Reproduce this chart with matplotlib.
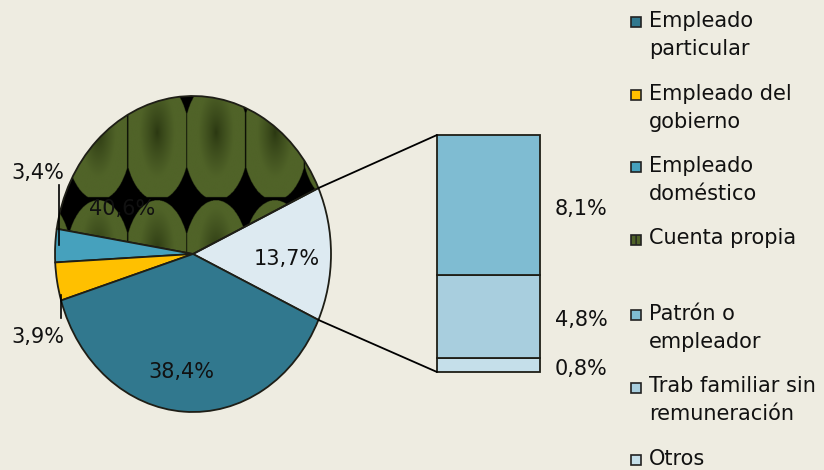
import numpy as np
import matplotlib
matplotlib.use('Agg')
import matplotlib.pyplot as plt
from matplotlib.patches import Rectangle, ConnectionPatch

# ---------------- data ----------------
pie_labels = ['Cuenta propia', 'Empleado doméstico', 'Empleado del gobierno', 'Empleado particular']
pie_values = [40.6, 3.4, 3.9, 38.4]
bar_labels = ['Patrón o empleador', 'Trab familiar sin remuneración', 'Otros']
bar_values = [8.1, 4.8, 0.8]
legend_labels = ['Empleado\nparticular', 'Empleado del\ngobierno', 'Empleado\ndoméstico',
                 'Cuenta propia', 'Patrón o\nempleador', 'Trab familiar sin\nremuneración', 'Otros']

# ---------------- style ----------------
BG = '#EEECE1'
EDGE = '#1E1E16'
C_OTHER = '#DDEAF1'
C_CP = 'none'
C_DOM = '#46A1BD'
C_GOB = '#FFC000'
C_PART = '#31788E'
BAR_COLORS = ['#7FBCD2', '#A8CEDE', '#C5DFEA']
GREEN_L = np.array([80, 99, 40]) / 255
GREEN_D = np.array([42, 55, 17]) / 255
FS = 15
plt.rcParams['font.family'] = ['DejaVu Sans']

def fmt(v):
    return f"{v:.1f}".replace('.', ',') + '%'

W, H = 824, 470
fig = plt.figure(figsize=(W / 100, H / 100), dpi=100, facecolor=BG)

def frac_box(left, top, width, height):
    return [left / W, 1 - (top + height) / H, width / W, height / H]

# ---------------- pie ----------------
pax = fig.add_axes(frac_box(55, 96, 276, 316))
other_total = sum(bar_values)
vals = [other_total] + pie_values
total = sum(vals)
start = -other_total / total * 180.0
wedges, _ = pax.pie(vals, startangle=start, counterclock=True,
                    colors=[C_OTHER, C_CP, C_DOM, C_GOB, C_PART],
                    wedgeprops=dict(edgecolor=EDGE, linewidth=1.3))
pax.set_aspect('auto')
pax.set_xlim(-1, 1)
pax.set_ylim(-1, 1)
pax.axis('off')

# pattern fill for "Cuenta propia" (green scales on black)
n = 700
xs = np.linspace(-1, 1, n)
ys = np.linspace(-1, 1, n)
X, Y = np.meshgrid(xs, ys)
cw = 59 / 138
xb0 = (127.7 - 193) / 138
col = np.floor((X - xb0) / cw)
cx = xb0 + (col + 0.5) * cw
ry0 = (254 - 137) / 158
rh = 120 / 158
row = np.round((Y - ry0) / rh)
cy = ry0 + row * rh
a = 32.5 / 138
b = 60 / 158
d = ((X - cx) / a) ** 2 + ((Y - cy + 0.02) / b) ** 2
inside = (d <= 1) & (np.abs(X - cx) < cw / 2 - 0.004)
r = np.sqrt(((X - cx) / (a * 0.55)) ** 2 + ((Y - cy - 0.03) / (b * 0.75)) ** 2)
t = np.clip(r, 0, 1) ** 0.8
img = np.zeros((n, n, 3))
for k in range(3):
    img[..., k] = np.where(inside, GREEN_D[k] + (GREEN_L[k] - GREEN_D[k]) * t, 0.0)
im = pax.imshow(img, extent=(-1, 1, -1, 1), origin='lower', aspect='auto',
                interpolation='bilinear', zorder=0.5)
im.set_clip_path(wedges[1])
pax.set_xlim(-1, 1)
pax.set_ylim(-1, 1)

# pie labels
tk = dict(fontsize=FS, color='#111111', ha='center', va='center')
pax.text(0.681, -0.03, fmt(other_total), **tk)
pax.text(-0.514, 0.285, fmt(pie_values[0]), **tk)
pax.text(-1.127, 0.51, fmt(pie_values[1]), clip_on=False, **tk)
pax.text(-1.127, -0.525, fmt(pie_values[2]), clip_on=False, **tk)
pax.text(-0.083, -0.745, fmt(pie_values[3]), **tk)
pax.plot([-0.971, -0.971], [0.437, 0.057], color='black', lw=1.2, clip_on=False)
pax.plot([-0.957, -0.957], [-0.259, -0.405], color='black', lw=1.2, clip_on=False)

# ---------------- bar ----------------
bax = fig.add_axes(frac_box(437, 135, 103, 237))
bottom = 0.0
stack = list(zip(bar_values, BAR_COLORS))[::-1]
for v, c in stack:
    bax.bar(0, v, width=1.0, bottom=bottom, color=c, edgecolor=EDGE, linewidth=1.3, clip_on=False)
    bax.annotate(fmt(v), xy=(0.5, bottom + v / 2), xytext=(10.5, -2.5), textcoords='offset points',
                 fontsize=FS, color='#111111', ha='left', va='center', annotation_clip=False)
    bottom += v
bax.set_xlim(-0.5, 0.5)
bax.set_ylim(0, other_total)
bax.axis('off')

# connection lines
ang1 = np.deg2rad(start)
ang2 = np.deg2rad(-start)
for ang, yb in [(ang2, other_total), (ang1, 0.0)]:
    con = ConnectionPatch(xyA=(np.cos(ang), np.sin(ang)), coordsA=pax.transData,
                          xyB=(-0.5, yb), coordsB=bax.transData,
                          color='black', lw=1.3)
    fig.add_artist(con)

# ---------------- legend ----------------
lax = fig.add_axes([0, 0, 1, 1])
lax.set_xlim(0, W)
lax.set_ylim(H, 0)
lax.axis('off')
lax.patch.set_alpha(0)
leg_colors = [C_PART, C_GOB, C_DOM, '#4F6228'] + BAR_COLORS
for i, (lab, c) in enumerate(zip(legend_labels, leg_colors)):
    yc = 22 + i * 72.5 + (3 if i >= 4 else 0)
    hatch = '|||' if i == 3 else None
    lax.add_patch(Rectangle((631, yc - 5), 10, 10, facecolor=c, edgecolor='#222222',
                            lw=1.2, hatch=hatch))
    lax.text(649, yc - 11, lab, fontsize=FS, color='#111111', ha='left', va='top',
             linespacing=1.5)

fig.savefig('out.png', dpi=100, facecolor=BG)
